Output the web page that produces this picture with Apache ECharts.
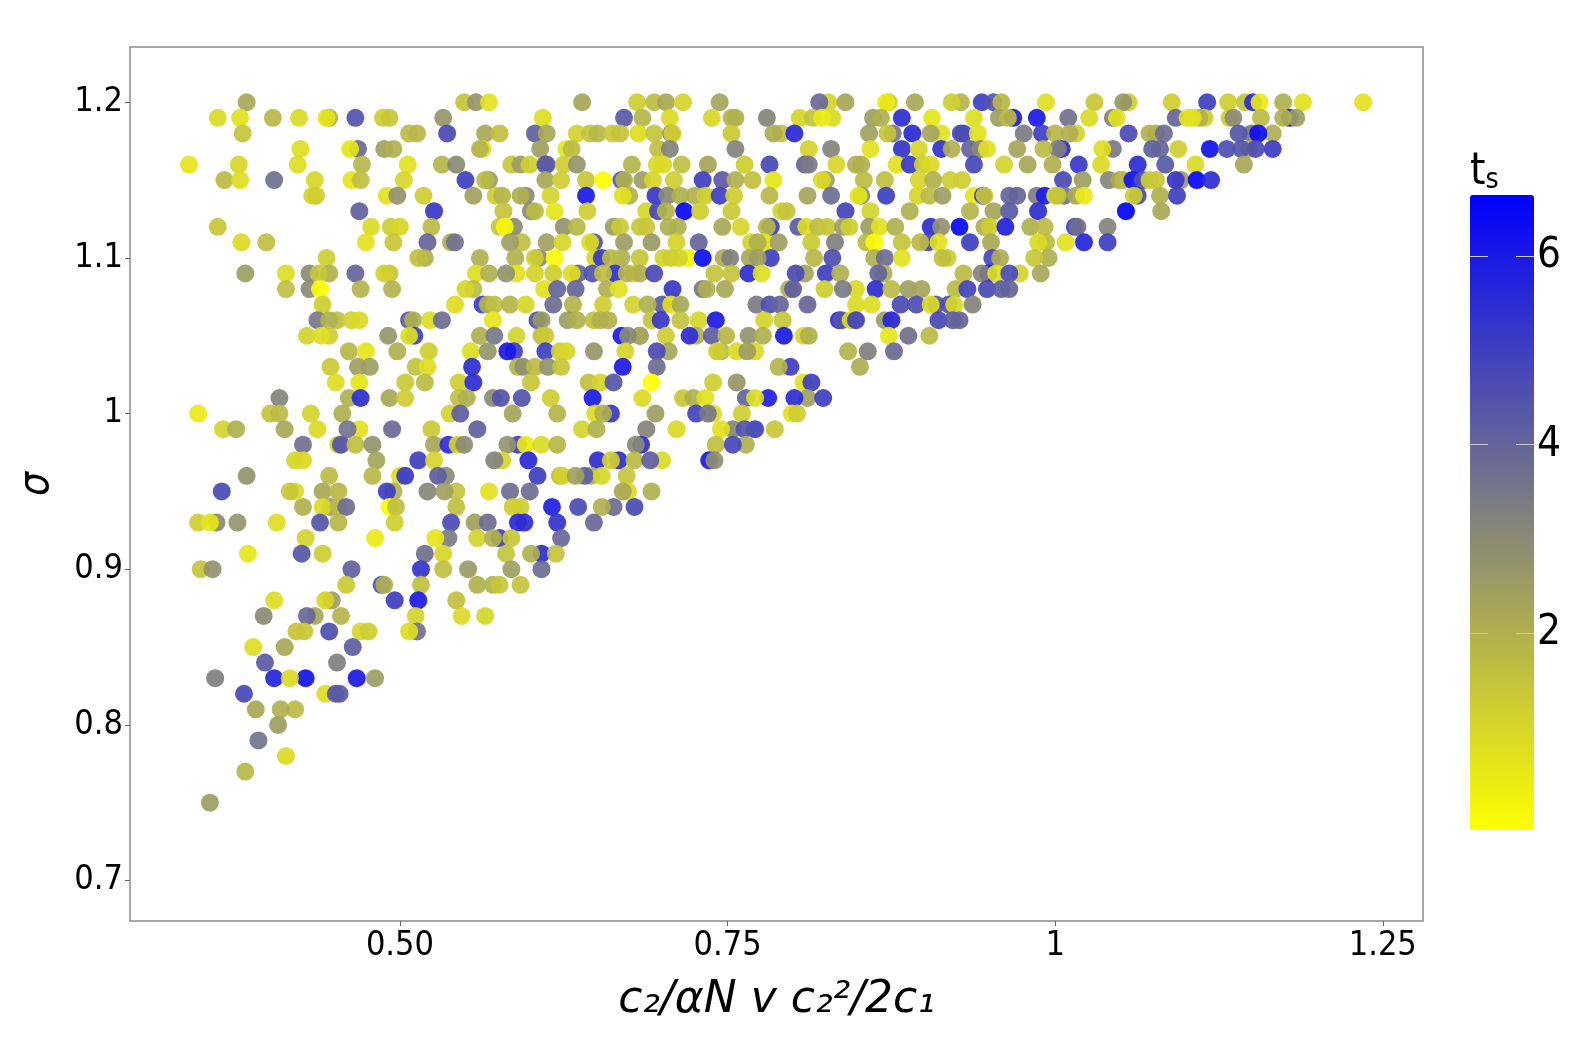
<!DOCTYPE html>
<html>
<head>
<meta charset="utf-8">
<style>
  html, body { margin: 0; padding: 0; background: #fff; }
  #chart { width: 1578px; height: 1052px; }
</style>
<script src="https://cdn.jsdelivr.net/npm/echarts@6/dist/echarts.min.js"></script>
</head>
<body>
<div id="chart"></div>
<script>
const s120 = [.383,2.2, .549,1.3, .558,2.7, .568,.5, .639,2.3, .681,1, .694,1.5, .703,2.2, .716,.9, .744,2.3, .827,.9, .820,3.9, .840,2.3, .873,1, .871,.3, .893,2.2, .928,1.7, .921,1, .944,5, .953,4.4, .959,1.6, .993,.6, 1.030,1.2, 1.056,1, 1.052,2.7, 1.089,1, 1.116,5, 1.132,1, 1.145,1.3, 1.151,5.5, 1.156,.3, 1.174,1.8, 1.189,.5, 1.235,.5]
const s119 = [.361,.7, .378,.5, .403,1.6, .423,.7, .446,2, .444,.4, .466,4.5, .487,1, .492,1.2, .533,2.7, .609,.6, .671,4.3, .685,1.7, .706,.7, .738,.8, .753,1.7, .756,1.8, .780,3.2, .805,.8, .815,1.3, .830,.7, .822,.3, .861,2.5, .867,1.8, .883,5.5, .906,.4, .938,.6, .957,2.5, .968,6, .964,1.5, .986,6, 1.010,3.7, 1.026,.7, 1.044,3.3, 1.047,.5, 1.092,4, 1.114,1, 1.110,2, 1.101,.5, 1.105,.5, 1.133,1, 1.136,3, 1.157,1.5, 1.179,6, 1.184,2.5, 1.174,2]
const s118 = [.380,1.3, .507,1.5, .513,1.6, .536,4.7, .565,2.2, .576,1.4, .603,4.1, .612,2.2, .635,.9, .645,1.3, .651,1.6, .662,1.1, .668,1.3, .682,.6, .694,1.3, .707,3, .708,1, .753,1.1, .791,1.4, .785,1.9, .801,5.6, .858,2.4, .876,3.5, .872,1.2, .891,5.6, .913,.5, .905,2.3, .928,4.8, .930,4.6, .941,.5, .976,3.4, .990,5, 1.000,1.6, 1.016,.9, 1.011,2, 1.056,4.7, 1.072,2, 1.077,1.8, 1.083,3.8, 1.150,3.5, 1.140,4.4, 1.166,2, 1.155,6.3]
const s117 = [.424,.6, .468,3.9, .462,.4, .488,2.4, .495,2, .563,.5, .561,1.7, .607,2.5, .627,.4, .631,1.5, .697,1.4, .706,3.2, .756,3.2, .812,.9, .829,3.2, .859,.5, .883,5.3, .913,5.3, .896,.8, .921,1.8, .935,4, .943,3, .948,.5, .971,2.3, 1.005,5.5, 1.002,3.3, .991,1.5, 1.044,3.5, 1.036,.6, 1.074,4.1, 1.080,4, 1.094,1, 1.118,6.2, 1.131,4.6, 1.148,1.8, 1.153,4.7, 1.142,4.4, 1.166,5.1]
const s116 = [.339,.4, .377,.8, .422,.6, .471,1.6, .506,.5, .532,1.7, .543,3, .585,1.2, .592,2.5, .599,1, .612,4, .611,4.3, .625,1, .635,2.7, .677,1.7, .696,.7, .701,.7, .715,1.4, .735,2.3, .763,1, .782,4.8, .809,4, .812,3.4, .833,.8, .848,2, .852,2, .879,.5, .889,5.2, .899,1, .905,.7, .938,4.8, .961,.9, .979,2.2, .998,2, 1.018,5.2, 1.035,.7, 1.063,5.5, 1.084,4.3, 1.107,.7, 1.144,2.2]
const s115 = [.366,1.5, .378,.6, .404,3.7, .435,.8, .463,.4, .470,1.4, .503,.8, .550,5, .568,2.5, .565,1.5, .611,2.2, .623,1, .642,1.2, .655,0, .669,4.5, .671,2, .685,2.5, .693,.8, .709,1, .731,5, .746,4.3, .756,1.8, .769,1.4, .785,.4, .825,2.5, .822,.7, .854,1.5, .870,1.4, .896,.8, .907,1.8, .920,1, .929,1, 1.006,4.7, 1.021,2.5, 1.041,3.1, 1.049,1.9, 1.052,1.5, 1.059,6.2, 1.067,4.5, 1.072,1, 1.077,1.2, 1.096,2.5, 1.092,5.2, 1.108,6.5, 1.119,5.5]
const s114 = [.433,.8, .436,1, .490,.5, .498,2.8, .518,1, .556,2.4, .573,1, .578,1.7, .596,3, .592,1.8, .615,.9, .642,6, .675,2, .670,.5, .695,5.2, .704,3, .714,1.8, .725,2, .733,1, .744,5, .755,1, .782,1.6, .811,2.3, .829,3.8, .852,3, .850,.4, .871,5, .895,.8, .904,1.5, .914,2.5, .938,.4, .945,5.8, .946,1.2, .965,4, .971,4, .986,3.3, .992,6, 1.007,3.6, 1.000,.5, 1.002,1.3, 1.016,2.2, 1.022,.3, 1.063,4.8, 1.060,1, 1.080,2, 1.093,5]
const s113 = [.469,4.1, .526,5.2, .579,1.3, .600,3, .603,1.5, .618,.4, .643,1, .688,.8, .697,4.8, .703,1.7, .717,6.5, .729,1, .753,1.1, .791,.9, .795,1.3, .840,4.9, .859,.9, .889,2, .935,1.7, .953,2.3, .965,4.3, .987,5.5, 1.054,6.6, 1.081,2.2]
const s112 = [.361,1.2, .478,.7, .493,1, .500,.8, .524,1.5, .587,3, .576,1.2, .580,.1, .625,2.8, .635,1.6, .663,2.5, .668,1.1, .683,1.2, .688,1.2, .705,2, .712,1.8, .746,2.2, .760,.8, .783,5, .780,1.6, .804,4.3, .810,.6, .819,1.5, .826,1.2, .838,2.5, .843,1, .858,2.5, .866,.5, .878,2, .905,5.5, .913,2.8, .927,6.5, .946,2, .950,1, .962,5.8, .981,2, .992,1.5, 1.015,5, 1.017,3.7, 1.040,3.2]
const s111 = [.379,.7, .398,1.4, .474,.5, .495,1.2, .521,4, .539,2, .542,3.7, .593,1.4, .584,2.5, .612,2.4, .624,.8, .648,4.5, .645,.6, .671,2.5, .692,2.6, .711,.9, .728,4, .778,.5, .768,.9, .773,1.8, .789,2.5, .814,1.1, .832,3.3, .856,1.5, .862,.1, .883,1.3, .903,4.8, .897,1.5, .911,.5, .935,5, .951,2.2, .993,1.5, .987,.7, 1.008,.5, 1.022,5.7, 1.040,5]
const s110 = [.444,1, .519,2, .514,1.4, .561,1.8, .588,1.8, .606,3, .603,1, .618,.1, .649,.8, .654,5.2, .669,2, .661,1.5, .683,1.2, .701,.9, .707,1, .720,.2, .713,.9, .731,6.3, .747,1.9, .752,3.3, .783,5, .767,2.2, .773,2.5, .816,1.6, .830,4.6, .862,1.8, .870,3.8, .883,.5, .918,1, .914,1.4, .952,4.8, .958,2.1, .995,2, .984,1.2]
const s109 = [.382,2.5, .413,.6, .431,3, .446,2, .438,1.2, .466,4, .492,1.2, .488,.9, .558,.6, .568,2, .589,.5, .581,2.8, .603,.9, .617,1, .636,4, .631,.6, .647,4.5, .664,5.4, .655,1.4, .678,.8, .683,2, .673,1.7, .694,4.7, .740,1.3, .753,1.3, .766,5.5, .776,.6, .809,2.3, .802,4.7, .825,5, .836,1.8, .869,2, .865,4, .930,1.5, .949,6, .944,3.2, .955,.5, .973,.9, .965,4.7, .989,2.2]
const s108 = [.413,1.4, .431,3, .439,0, .470,1.7, .494,1.7, .556,1.5, .550,.8, .610,.5, .620,4, .634,4, .658,2, .667,.5, .708,5.2, .731,3.5, .734,2, .748,2.2, .797,2, .800,4.2, .824,1, .848,.7, .838,3.4, .863,5.5, .875,1.5, .888,2.5, .898,2.3, .924,1.5, .933,4.9, .948,4.7, .959,4.2, .965,4]
const s107 = [.441,1, .542,.6, .563,5, .567,1.7, .572,1.4, .584,1.7, .596,.8, .617,3.8, .632,1.7, .655,1, .678,.9, .700,4.3, .689,2, .707,.5, .714,2.2, .772,3.4, .782,4.6, .790,4, .811,4, .848,.7, .860,.6, .882,4.7, .894,4.6, .909,4.5, .905,.7, .919,4.5, .923,.7, .937,3.2]
const s106 = [.437,3.5, .452,1.4, .446,2, .463,.9, .469,.7, .507,4.3, .510,1.8, .523,.6, .532,3.8, .571,.4, .605,4.5, .608,2.6, .628,2.5, .635,1.8, .648,1.4, .653,2, .659,2, .692,1.3, .699,5.2, .714,1.3, .728,.8, .741,6, .778,.9, .792,1.2, .835,5.5, .837,4.4, .844,.7, .848,5, .870,2.5, .875,5.7, .911,4.8, .922,4.2, .927,4]
const s105 = [.429,.9, .446,1, .440,.6, .491,2.7, .511,5, .507,.6, .561,2, .572,3.5, .589,.9, .608,1.5, .611,1.1, .669,6, .683,5, .683,2, .674,3, .703,1, .726,2, .721,5.5, .738,4.2, .749,1.6, .766,2.8, .777,2, .793,6, .808,.8, .812,2, .873,.4, .888,3.7, .904,1.5]
const s104 = [.461,1.6, .474,.4, .498,1.8, .522,1, .554,.6, .567,2.7, .587,5, .582,6, .611,5, .622,1, .627,.8, .648,2.7, .672,.8, .705,2.2, .696,4.7, .745,1.5, .742,1, .757,.7, .771,.7, .765,2.5, .842,1.7, .857,3.3, .877,3.9]
const s103 = [.447,1.1, .468,2.5, .477,2.5, .512,1.3, .521,.6, .555,5.5, .590,1.7, .594,2.9, .603,1.5, .613,2.8, .623,1.2, .670,6, .696,3.8, .798,5, .789,1.7, .851,2.1]
const s102 = [.451,.6, .469,.4, .504,1.1, .519,1.5, .545,1, .556,5.5, .600,1.2, .644,1.4, .653,.9, .663,4.4, .692,-.09, .739,1, .757,2.7, .808,.5, .814,5]
const s101 = [.408,3.2, .461,2, .470,5.5, .492,2.2, .504,1, .545,1.4, .551,2, .571,3, .577,4.5, .593,4.5, .615,1, .647,6, .685,.7, .716,1.2, .724,1.8, .733,.5, .764,4, .781,5.8, .771,.6, .811,2.4, .801,5.5, .823,5]
const s100 = [.346,.3, .401,1.3, .408,1.5, .432,.9, .456,1.8, .538,.9, .546,4.2, .586,2.3, .620,1.7, .649,.6, .661,5.2, .655,2, .695,2.5, .739,.6, .726,4.9, .735,3.5, .761,1, .799,.5, .803,1]
const s099 = [.365,.9, .375,1.8, .412,2.2, .437,.7, .469,.5, .460,3.6, .494,3.9, .524,1.1, .559,4.1, .639,.9, .650,1.8, .688,3.2, .711,.7, .754,3.1, .745,.5, .771,5, .763,4.5, .786,1.2]
const s098 = [.426,3.7, .453,1, .455,4.5, .466,1.4, .479,2.8, .526,2.2, .537,5.5, .544,.9, .549,3, .590,5, .582,2.8, .596,.3, .608,.7, .620,1.6, .684,5.5, .680,3, .764,2, .741,1.4, .754,4.8]
const s097 = [.420,.8, .426,.7, .482,2.3, .514,5, .526,.8, .578,.8, .572,3.2, .598,5.6, .667,5.5, .651,5.5, .661,1, .679,1.5, .700,.7, .691,4.2, .736,6, .740,2.9]
const s096 = [.383,2.8, .446,1.5, .479,1.6, .500,.6, .504,5.2, .535,3, .529,4.2, .605,5, .622,1.4, .624,.9, .646,2, .641,4.2, .634,2.4, .654,.8, .673,1.2]
const s095 = [.364,4.7, .420,.6, .416,1.2, .441,2.2, .453,1.6, .495,2, .490,5, .521,3.1, .543,1.3, .534,2.4, .568,.5, .584,3.8, .599,3.8, .674,.7, .670,2.2, .692,1.8]
const s094 = [.426,2, .447,2.6, .441,.7, .453,1.5, .459,3.8, .492,0, .497,1.4, .543,1.4, .586,1, .592,1, .616,5.8, .636,4.7, .663,3.8, .654,1.8, .679,4.7]
const s093 = [.346,1, .360,3, .355,.4, .376,2.7, .406,.6, .439,4.4, .453,1.6, .496,1, .539,4.7, .557,2.4, .567,3.8, .590,5.6, .595,5.5, .620,5.3, .648,3.9]
const s092 = [.428,.9, .481,.3, .537,3.4, .527,.4, .559,.9, .576,5, .571,1.8, .585,1.2, .623,3.9]
const s091 = [.384,.4, .425,4.4, .441,1, .519,3.7, .533,.8, .608,5.5, .581,1.3, .600,1.8, .619,1.3]
const s090 = [.348,1.3, .357,2.8, .463,4.1, .516,5.3, .533,1.4, .552,2.6, .585,2.5, .608,3.8]
const s089 = [.459,1.1, .486,4.5, .488,2, .516,1.4, .559,1.8, .571,1.7, .576,1.2, .592,1.3]
const s088 = [.404,.6, .448,2.5, .443,.8, .496,5, .514,6, .543,1.4]
const s087 = [.396,3, .435,2.2, .429,3.9, .455,1.7, .512,.9, .547,.7, .565,.8]
const s086 = [.421,1.2, .427,1.2, .446,4.6, .470,.8, .476,1, .513,3.7, .507,.6]
const s085 = [.388,.6, .412,2.2, .464,4.2]
const s084 = [.397,4.3, .452,3.3]
const s083 = [.359,3.3, .404,5.7, .428,6.2, .416,.7, .467,6, .481,2.5]
const s082 = [.381,4.8, .443,.6, .451,4.4, .454,4.3]
const s081 = [.390,2.2, .420,1.5, .409,2]
const s080 = [.407,2.5]
const s079 = [.392,3.6]
const s078 = [.413,.7]
const s077 = [.382,1.6]
const s075 = [.355,2.5]

const sigmaLevels = [1.2, 1.19, 1.18, 1.17, 1.16, 1.15, 1.14, 1.13, 1.12, 1.11, 1.1, 1.09, 1.08, 1.07, 1.06, 1.05, 1.04, 1.03, 1.02, 1.01, 1, 0.99, 0.98, 0.97, 0.96, 0.95, 0.94, 0.93, 0.92, 0.91, 0.9, 0.89, 0.88, 0.87, 0.86, 0.85, 0.84, 0.83, 0.82, 0.81, 0.8, 0.79, 0.78, 0.77, 0.75]
const sigmaRows = [s120, s119, s118, s117, s116, s115, s114, s113, s112, s111, s110, s109, s108, s107, s106, s105, s104, s103, s102, s101, s100, s099, s098, s097, s096, s095, s094, s093, s092, s091, s090, s089, s088, s087, s086, s085, s084, s083, s082, s081, s080, s079, s078, s077, s075]

const xTicks = [0.5, 0.75, 1, 1.25]
const xTickLabels = ['0.50', '0.75', '1', '1.25']
const yTicks = [0.7, 0.8, 0.9, 1, 1.1, 1.2]
const yTickLabels = ['0.7', '0.8', '0.9', '1', '1.1', '1.2']
const tsTicks = [2, 4, 6]

// my colour reads ran a little low on the yellow side
const fixTs = t => (t >= 0.3 && t < 2 ? t + 0.2 : t)

const points = []
sigmaRows.forEach((row, i) => {
  for (let k = 0; k < row.length; k += 2) {
    points.push([row[k], sigmaLevels[i], fixTs(row[k + 1])])
  }
})

const labelFont = '"DejaVu Sans Condensed", "DejaVu Sans", sans-serif'
const titleFont = '"DejaVu Sans", sans-serif'
const chart = echarts.init(document.getElementById('chart'), null, { renderer: 'canvas' })
chart.setOption({
  animation: false,
  backgroundColor: '#fff',
  textStyle: { fontFamily: labelFont },
  title: {
    text: '{t|t}{s|s}',
    left: 1465,
    top: 146,
    textStyle: {
      fontWeight: 'normal',
      rich: {
        t: { fontSize: 44, color: '#000', fontWeight: 'normal', fontFamily: labelFont },
        s: { fontSize: 28, color: '#000', fontWeight: 'normal', fontFamily: labelFont, padding: [16, 0, 0, 0] }
      }
    }
  },
  grid: [
    { left: 130, top: 47, width: 1293, height: 874, show: true, borderColor: '#8c8c8c', borderWidth: 1.5, backgroundColor: '#fff', outerBoundsMode: 'none' },
    { left: 1470, top: 195, width: 64, height: 635, outerBoundsMode: 'none' }
  ],
  xAxis: [{
    gridIndex: 0,
    type: 'value',
    min: 0.294,
    max: 1.2807,
    name: 'c₂/αN v c₂²/2c₁',
    nameLocation: 'center',
    nameGap: 58,
    nameTextStyle: { fontSize: 44, fontStyle: 'italic', color: '#000', fontFamily: titleFont },
    axisLine: { show: false },
    axisTick: { show: true, customValues: xTicks, length: 5, lineStyle: { color: '#666' } },
    axisLabel: {
      customValues: xTicks,
      fontSize: 34,
      color: '#000',
      margin: 8,
      fontFamily: labelFont,
      formatter: v => xTickLabels[xTicks.indexOf(v)]
    },
    splitLine: { show: false }
  }, {
    gridIndex: 1,
    type: 'value',
    show: false,
    min: 0,
    max: 1
  }],
  yAxis: [{
    gridIndex: 0,
    type: 'value',
    min: 0.674,
    max: 1.2355,
    name: 'σ',
    nameLocation: 'center',
    nameGap: 72,
    nameTextStyle: { fontSize: 42, fontStyle: 'italic', color: '#000', fontFamily: labelFont },
    axisLine: { show: false },
    axisTick: { show: true, customValues: yTicks, length: 5, lineStyle: { color: '#666' } },
    axisLabel: {
      customValues: yTicks,
      fontSize: 34,
      color: '#000',
      margin: 7,
      fontFamily: labelFont,
      formatter: v => yTickLabels[yTicks.indexOf(v)]
    },
    splitLine: { show: false }
  }, {
    gridIndex: 1,
    type: 'value',
    position: 'right',
    min: -0.09,
    max: 6.65,
    z: 10,
    axisLine: { show: false, onZero: false },
    axisTick: { show: true, inside: true, customValues: tsTicks, length: 18, lineStyle: { color: '#c8c8c8', width: 1 } },
    axisLabel: { customValues: tsTicks, fontSize: 42, color: '#000', margin: 3, fontFamily: labelFont },
    splitLine: { show: false }
  }, {
    gridIndex: 1,
    type: 'value',
    position: 'left',
    min: -0.09,
    max: 6.65,
    z: 10,
    axisLine: { show: false, onZero: false },
    axisTick: { show: true, inside: true, customValues: tsTicks, length: 18, lineStyle: { color: '#c8c8c8', width: 1 } },
    axisLabel: { show: false },
    splitLine: { show: false }
  }],
  visualMap: {
    type: 'continuous',
    seriesIndex: 0,
    dimension: 2,
    min: -0.09,
    max: 6.65,
    left: 1470,
    top: 195,
    padding: 0,
    itemWidth: 64,
    itemHeight: 635,
    calculable: false,
    hoverLink: false,
    text: null,
    z: 1,
    inRange: { color: ['#ffff00', '#0000ff'] }
  },
  series: [{
    type: 'scatter',
    xAxisIndex: 0,
    yAxisIndex: 0,
    symbolSize: 18,
    itemStyle: { opacity: 0.92 },
    data: points
  }, {
    type: 'scatter',
    xAxisIndex: 1,
    yAxisIndex: 1,
    data: []
  }, {
    type: 'scatter',
    xAxisIndex: 1,
    yAxisIndex: 2,
    data: []
  }]
})
</script>
</body>
</html>
